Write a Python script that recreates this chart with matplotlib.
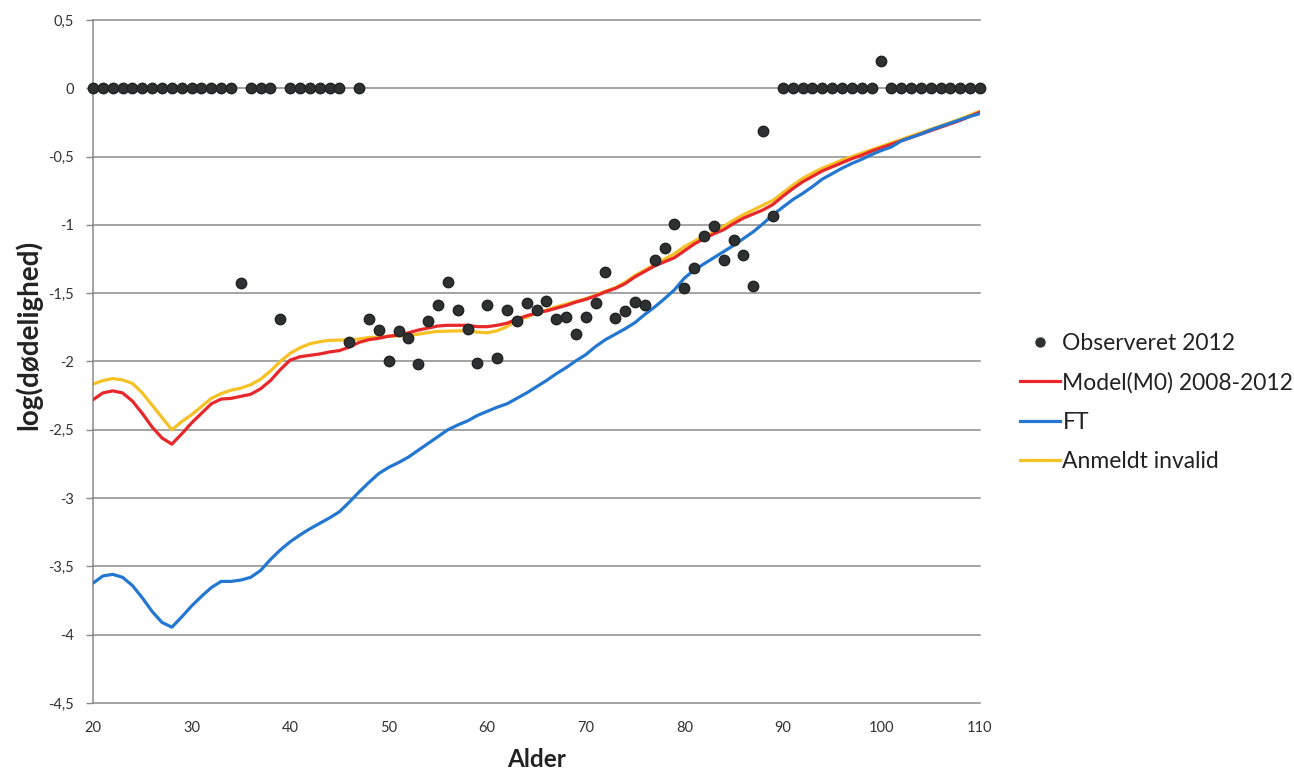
import matplotlib
matplotlib.use("Agg")
import matplotlib.pyplot as plt
from matplotlib.lines import Line2D

# ---------------- data ----------------
ages_obs = list(range(20, 111))
obs_2012 = [0]*15 + [-1.427, 0, 0, 0, -1.686] + [0]*6 + [-1.855, 0,
    -1.686, -1.767, -1.994, -1.777, -1.826, -2.019, -1.70, -1.589, -1.42, -1.62,
    -1.762, -2.009, -1.589, -1.972, -1.623, -1.70, -1.571, -1.623, -1.554, -1.69,
    -1.672, -1.80, -1.672, -1.571, -1.347, -1.684, -1.633, -1.562, -1.586, -1.259,
    -1.166, -0.99, -1.464, -1.317, -1.08, -1.009, -1.259, -1.109, -1.217, -1.447,
    -0.313, -0.938] + [0]*10 + [0.2] + [0]*10

ages_line = list(range(20, 111))
model_m0 = [-2.28, -2.23, -2.215, -2.23, -2.29, -2.38, -2.48, -2.56, -2.605, -2.53,
    -2.45, -2.38, -2.31, -2.275, -2.27, -2.255, -2.24, -2.20, -2.14, -2.06,
    -1.99, -1.965, -1.955, -1.945, -1.93, -1.92, -1.895, -1.86, -1.84, -1.83,
    -1.815, -1.807, -1.79, -1.77, -1.755, -1.74, -1.735, -1.735, -1.735, -1.745,
    -1.745, -1.735, -1.72, -1.69, -1.665, -1.645, -1.63, -1.61, -1.59, -1.565,
    -1.545, -1.52, -1.49, -1.465, -1.43, -1.38, -1.34, -1.30, -1.27, -1.24,
    -1.19, -1.14, -1.10, -1.065, -1.035, -0.99, -0.95, -0.92, -0.89, -0.85,
    -0.79, -0.735, -0.685, -0.645, -0.605, -0.575, -0.545, -0.515, -0.49, -0.46,
    -0.435, -0.41, -0.385, -0.36, -0.335, -0.31, -0.285, -0.26, -0.235, -0.205,
    -0.175]
ft = [-3.623, -3.57, -3.558, -3.58, -3.64, -3.73, -3.83, -3.91, -3.945, -3.87,
    -3.79, -3.72, -3.655, -3.61, -3.61, -3.60, -3.58, -3.53, -3.45, -3.38,
    -3.32, -3.27, -3.225, -3.185, -3.145, -3.10, -3.03, -2.955, -2.885, -2.82,
    -2.775, -2.74, -2.70, -2.65, -2.60, -2.55, -2.50, -2.465, -2.435, -2.395,
    -2.365, -2.335, -2.31, -2.27, -2.23, -2.185, -2.14, -2.09, -2.045, -1.995,
    -1.95, -1.89, -1.84, -1.80, -1.76, -1.715, -1.655, -1.60, -1.54, -1.475,
    -1.39, -1.33, -1.285, -1.24, -1.195, -1.15, -1.10, -1.05, -0.99, -0.925,
    -0.87, -0.815, -0.77, -0.72, -0.665, -0.625, -0.585, -0.55, -0.52, -0.485,
    -0.455, -0.43, -0.385, -0.36, -0.335, -0.305, -0.28, -0.255, -0.23, -0.205,
    -0.185]
anmeldt_invalid = [-2.165, -2.14, -2.125, -2.135, -2.16, -2.23, -2.32, -2.41, -2.50, -2.44,
    -2.39, -2.33, -2.27, -2.235, -2.21, -2.195, -2.17, -2.13, -2.07, -2.00,
    -1.94, -1.90, -1.87, -1.855, -1.845, -1.843, -1.842, -1.835, -1.825, -1.82,
    -1.815, -1.812, -1.81, -1.80, -1.788, -1.78, -1.778, -1.776, -1.775, -1.785,
    -1.79, -1.775, -1.745, -1.70, -1.675, -1.645, -1.625, -1.60, -1.58, -1.56,
    -1.54, -1.515, -1.485, -1.46, -1.42, -1.37, -1.33, -1.29, -1.25, -1.21,
    -1.16, -1.12, -1.08, -1.05, -1.01, -0.965, -0.925, -0.89, -0.855, -0.82,
    -0.765, -0.71, -0.66, -0.62, -0.585, -0.555, -0.525, -0.50, -0.475, -0.45,
    -0.425, -0.40, -0.375, -0.35, -0.325, -0.30, -0.275, -0.25, -0.225, -0.195,
    -0.168]

x_ticks = [20, 30, 40, 50, 60, 70, 80, 90, 100, 110]
y_ticks = [0.5, 0, -0.5, -1, -1.5, -2, -2.5, -3, -3.5, -4, -4.5]
y_tick_labels = ["0,5", "0", "-0,5", "-1", "-1,5", "-2", "-2,5", "-3", "-3,5", "-4", "-4,5"]
labels = ["Observeret 2012", "Model(M0) 2008-2012", "FT", "Anmeldt invalid"]

# ---------------- style ----------------
plt.rcParams['font.family'] = ['Lato', 'DejaVu Sans']
RED = "#e8272b"
BLUE = "#2477d1"
YELLOW = "#f6c125"
DOT = "#2e3131"
GRID = "#8a8a8a"

W, H = 1294, 769
fig = plt.figure(figsize=(W/100, H/100), dpi=100)
fig.patch.set_facecolor("white")
L, R, T, B = 93, 980, 20, 703
ax = fig.add_axes([L/W, 1 - B/H, (R-L)/W, (B-T)/H])

ax.set_xlim(20, 110)
ax.set_ylim(-4.5, 0.5)

for yv in y_ticks:
    ax.axhline(yv, color=GRID, lw=1.1, zorder=1, clip_on=False)

ax.plot(ages_line, model_m0, color=RED, lw=2.3, zorder=3, solid_capstyle="round")
ax.plot(ages_line, ft, color=BLUE, lw=2.3, zorder=3, solid_capstyle="round")
ax.plot(ages_line, anmeldt_invalid, color=YELLOW, lw=2.3, zorder=2, solid_capstyle="round")
ax.plot(ages_obs, obs_2012, linestyle="none", marker="o", ms=7.5,
        color=DOT, markeredgecolor="#222222", zorder=5, clip_on=False)

for s in ["top", "right", "bottom"]:
    ax.spines[s].set_visible(False)
ax.spines["left"].set_color(GRID)
ax.spines["left"].set_linewidth(1.1)

ax.set_xticks(x_ticks)
ax.set_xticklabels([str(v) for v in x_ticks])
ax.set_yticks(y_ticks)
ax.set_yticklabels(y_tick_labels)
ax.tick_params(axis="x", length=0, pad=13, labelsize=10.5, labelcolor="#333333")
ax.tick_params(axis="y", length=5, width=1, color=GRID, pad=9, labelsize=10.5,
               labelcolor="#333333")

ax.set_xlabel("Alder", fontsize=17.5, fontweight="bold", color="#222222", labelpad=9)
fig.text(28/W, 1 - 335/H, "log(dødelighed)", rotation=90, ha="center", va="center",
         fontsize=20, fontweight="bold", color="#222222")

handles = [
    Line2D([], [], linestyle="none", marker="o", ms=6.5, color=DOT),
    Line2D([], [], color=RED, lw=2.3),
    Line2D([], [], color=BLUE, lw=2.3),
    Line2D([], [], color=YELLOW, lw=2.3),
]
fig.legend(handles, labels, loc="upper left", bbox_to_anchor=(999/W, 1 - 312/H),
           frameon=False, fontsize=16.5, handlelength=1.75, handletextpad=0.12,
           labelspacing=0.8, labelcolor="#222222")

fig.savefig("out.png", dpi=100, facecolor="white")
